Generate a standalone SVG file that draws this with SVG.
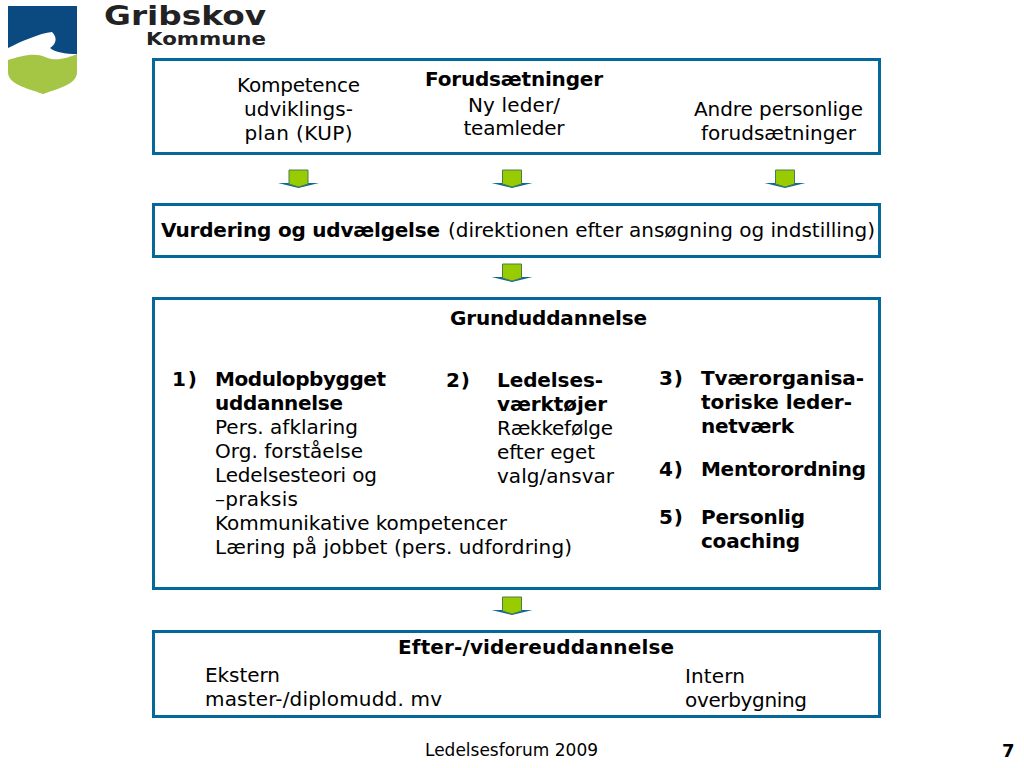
<svg xmlns="http://www.w3.org/2000/svg" width="1024" height="768" viewBox="0 0 1024 768">
<style>
text{font-family:"DejaVu Sans",Verdana,sans-serif;font-size:20px;fill:#000}
.b{font-weight:bold}
.m{text-anchor:middle}
.box{fill:#fff;stroke:#05689b;stroke-width:3}
.ah{fill:#9c0;stroke:#4a7a55;stroke-width:1}
.as{fill:#0b6a8f}
</style>
<defs>
<g id="arrow"><path class="as" d="M-20.500 4H20.500L0 9Z"/><path class="ah" d="M-9.500-9H9.500V5L0 8-9.500 5Z"/></g>
</defs>
<rect width="1024" height="768" fill="#fff"/>
<g id="logo">
<path d="M8 6H77V54C65 54 55 52 50 48 56 44 58 38 52 32 40 33 20 42 8 48Z" fill="#0a4a80"/>
<path d="M8 60C20 56 35 52 45 57 55 62 68 58 77 54V72C77 84 60 88 43 94 26 88 8 84 8 72Z" fill="#a4c644"/>
<text x="104" y="25" style="font-size:27px;font-weight:bold;fill:#222" textLength="162" lengthAdjust="spacingAndGlyphs">Gribskov</text>
<text x="146" y="45" style="font-size:17px;font-weight:bold;fill:#222" textLength="120" lengthAdjust="spacingAndGlyphs">Kommune</text>
</g>
<g id="forudsaetninger">
<rect class="box" x="153.500" y="59.500" width="726" height="94"/>
<text class="m" x="298.500" y="92" textLength="123">Kompetence</text>
<text class="m" x="298.500" y="116" textLength="109">udviklings-</text>
<text class="m" x="298.500" y="140" textLength="108">plan (KUP)</text>
<text class="m b" x="514" y="86" textLength="178">Forudsætninger</text>
<text class="m" x="514" y="112" textLength="92">Ny leder/</text>
<text class="m" x="514" y="135" textLength="101">teamleder</text>
<text class="m" x="778.500" y="116" textLength="169">Andre personlige</text>
<text class="m" x="778.500" y="140" textLength="155">forudsætninger</text>
</g>
<g id="vurdering">
<rect class="box" x="153.500" y="204.500" width="726" height="52"/>
<text class="b" x="161" y="237" textLength="279">Vurdering og udvælgelse</text>
<text x="448" y="237" textLength="427">(direktionen efter ansøgning og indstilling)</text>
</g>
<g id="grunduddannelse">
<rect class="box" x="153.500" y="298.500" width="726" height="290"/>
<text class="b" x="450" y="325" textLength="197">Grunduddannelse</text>
<text class="b" x="172" y="386" textLength="25">1)</text>
<text class="b" x="215" y="386" textLength="171">Modulopbygget</text>
<text class="b" x="215" y="410" textLength="128">uddannelse</text>
<text x="215" y="434" textLength="143">Pers. afklaring</text>
<text x="215" y="458" textLength="148">Org. forståelse</text>
<text x="215" y="482" textLength="162">Ledelsesteori og</text>
<text x="215" y="506" textLength="83">–praksis</text>
<text x="215" y="530" textLength="292">Kommunikative kompetencer</text>
<text x="215" y="554" textLength="357">Læring på jobbet (pers. udfordring)</text>
<text class="b" x="446" y="387" textLength="24">2)</text>
<text class="b" x="497" y="387" textLength="106">Ledelses-</text>
<text class="b" x="497" y="411" textLength="110">værktøjer</text>
<text x="497" y="435" textLength="116">Rækkefølge</text>
<text x="497" y="459" textLength="98">efter eget</text>
<text x="497" y="483" textLength="117">valg/ansvar</text>
<text class="b" x="659" y="385" textLength="24">3)</text>
<text class="b" x="701" y="385" textLength="163">Tværorganisa-</text>
<text class="b" x="701" y="409" textLength="151">toriske leder-</text>
<text class="b" x="701" y="433" textLength="93">netværk</text>
<text class="b" x="659" y="476" textLength="24">4)</text>
<text class="b" x="701" y="476" textLength="165">Mentorordning</text>
<text class="b" x="659" y="524" textLength="24">5)</text>
<text class="b" x="701" y="524" textLength="104">Personlig</text>
<text class="b" x="701" y="548" textLength="99">coaching</text>
</g>
<g id="efteruddannelse">
<rect class="box" x="153.500" y="631.500" width="726" height="85"/>
<text class="b" x="398" y="654" textLength="276">Efter-/videreuddannelse</text>
<text x="205" y="682" textLength="75">Ekstern</text>
<text x="205" y="706" textLength="237">master-/diplomudd. mv</text>
<text x="685" y="683" textLength="60">Intern</text>
<text x="685" y="707" textLength="122">overbygning</text>
</g>
<g id="connectors">
<use href="#arrow" x="298.500" y="179"/>
<use href="#arrow" x="512" y="179"/>
<use href="#arrow" x="785" y="179"/>
<use href="#arrow" x="512" y="273"/>
<use href="#arrow" x="512" y="606"/>
</g>
<g id="footer">
<text x="425" y="756" style="font-size:17.500px" textLength="173" lengthAdjust="spacingAndGlyphs">Ledelsesforum 2009</text>
<text x="1002" y="757" style="font-size:18px;font-weight:bold">7</text>
</g>
</svg>
